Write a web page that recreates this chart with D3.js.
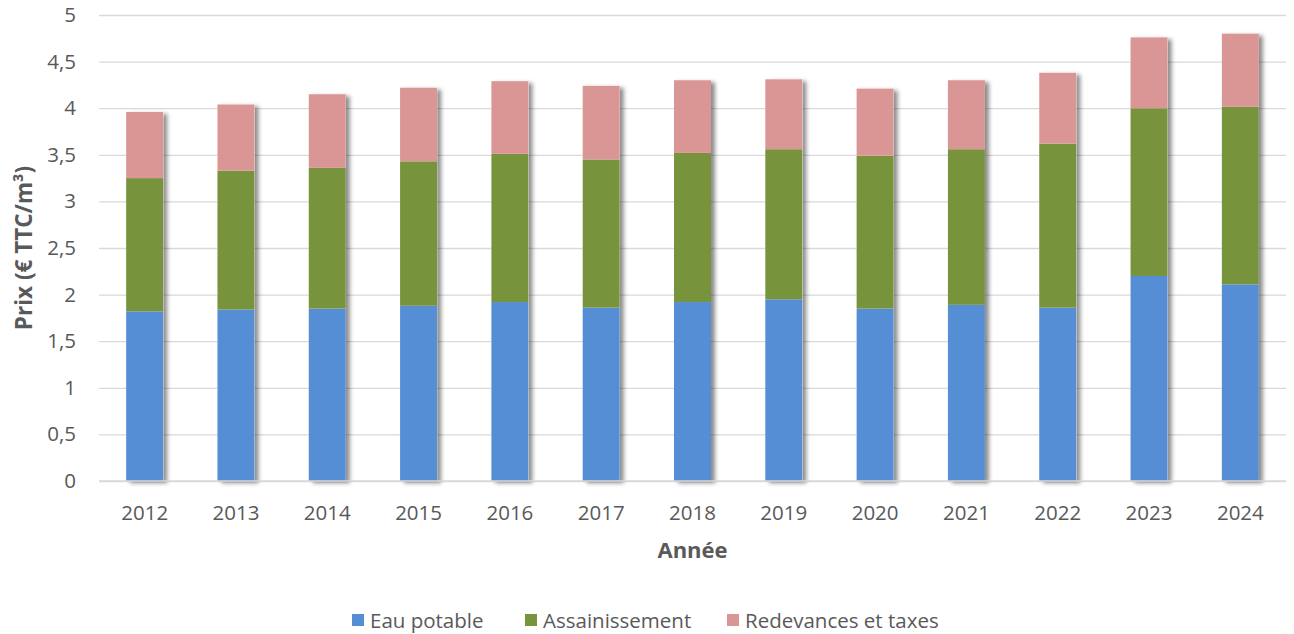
<!DOCTYPE html>
<html>
<head>
<meta charset="utf-8">
<script src="https://cdn.jsdelivr.net/npm/d3@7"></script>
<style>
  body { margin: 0; background: #fff; }
  text { font-family: "Open Sans", sans-serif; fill: #595959; }
</style>
</head>
<body>
<div id="chart"></div>
<script>
const years = ['2012', '2013', '2014', '2015', '2016', '2017', '2018', '2019', '2020', '2021', '2022', '2023', '2024'];
const eauPotable = [1.82, 1.84, 1.85, 1.88, 1.92, 1.86, 1.92, 1.95, 1.85, 1.89, 1.86, 2.20, 2.11];
const assainissement = [1.43, 1.49, 1.51, 1.55, 1.59, 1.59, 1.60, 1.61, 1.64, 1.67, 1.76, 1.80, 1.905];
const redevances = [0.71, 0.71, 0.79, 0.79, 0.78, 0.79, 0.78, 0.75, 0.72, 0.74, 0.76, 0.76, 0.785];
const seriesNames = ['Eau potable', 'Assainissement', 'Redevances et taxes'];
const yTicks = [0, 0.5, 1, 1.5, 2, 2.5, 3, 3.5, 4, 4.5, 5];

const W = 1294, H = 634;
const margin = { left: 99, right: 8, top: 15, bottom: 153 };
const width = W - margin.left - margin.right;
const height = H - margin.top - margin.bottom;

const colors = d3.scaleOrdinal().domain(seriesNames).range(['#558ed5', '#77933c', '#d99694']);

const rows = years.map((y, i) => ({
  year: y,
  'Eau potable': eauPotable[i],
  'Assainissement': assainissement[i],
  'Redevances et taxes': redevances[i]
}));
const stacked = d3.stack().keys(seriesNames)(rows);
const total = d => d['Eau potable'] + d['Assainissement'] + d['Redevances et taxes'];

const svg = d3.select('#chart').append('svg')
  .attr('width', W)
  .attr('height', H);

const defs = svg.append('defs');
defs.append('filter')
  .attr('id', 'shadow')
  .attr('x', '-20%').attr('y', '-5%')
  .attr('width', '150%').attr('height', '115%')
  .append('feDropShadow')
    .attr('dx', 4).attr('dy', 2)
    .attr('stdDeviation', 2.2)
    .attr('flood-color', '#000')
    .attr('flood-opacity', 0.45);

const g = svg.append('g').attr('transform', `translate(${margin.left}, ${margin.top})`);

const x = d3.scaleBand().domain(years).range([0, width]).paddingInner(0.595).paddingOuter(0.2975);
const y = d3.scaleLinear().domain([0, 5]).range([height, 0]);

const tickFont = '20.5px';

// grid lines
g.append('g')
  .attr('class', 'grid')
  .call(d3.axisLeft(y).tickValues(yTicks).tickSize(-width).tickFormat(''))
  .call(a => a.select('.domain').remove())
  .call(a => a.selectAll('line').attr('stroke', '#d9d9d9').attr('stroke-width', 1.3));

// y tick labels
g.append('g')
  .call(d3.axisLeft(y).tickValues(yTicks).tickSize(0).tickPadding(23)
    .tickFormat(d => String(d).replace('.', ',')))
  .call(a => a.select('.domain').remove())
  .call(a => a.selectAll('text').attr('font-size', tickFont).attr('fill', '#595959').style('font-family', '"Open Sans", sans-serif'));

// bars
const barG = g.append('g');
barG.selectAll('.shadow-bar')
  .data(rows)
  .enter()
  .append('rect')
    .attr('class', 'shadow-bar')
    .attr('x', d => x(d.year))
    .attr('width', x.bandwidth())
    .attr('y', d => y(total(d)))
    .attr('height', d => height - y(total(d)))
    .attr('fill', '#fff')
    .attr('filter', 'url(#shadow)');

barG.selectAll('.layer')
  .data(stacked)
  .enter()
  .append('g')
    .attr('class', 'layer')
    .attr('fill', d => colors(d.key))
  .selectAll('rect')
  .data(d => d)
  .enter()
  .append('rect')
    .attr('x', d => x(d.data.year))
    .attr('width', x.bandwidth())
    .attr('y', d => y(d[1]))
    .attr('height', d => y(d[0]) - y(d[1]));

// baseline
g.append('line')
  .attr('x1', 0).attr('x2', width)
  .attr('y1', height).attr('y2', height)
  .attr('stroke', '#d9d9d9')
  .attr('stroke-width', 1.3);

// x tick labels
g.append('g')
  .attr('transform', `translate(0, ${height})`)
  .call(d3.axisBottom(x).tickSize(0).tickPadding(24))
  .call(a => a.select('.domain').remove())
  .call(a => a.selectAll('text').attr('font-size', tickFont).attr('fill', '#595959').style('font-family', '"Open Sans", sans-serif'));

// axis titles
svg.append('text')
  .attr('x', margin.left + width / 2)
  .attr('y', 558)
  .attr('text-anchor', 'middle')
  .attr('font-size', '22px')
  .attr('font-weight', 'bold')
  .text('Année');

svg.append('text')
  .attr('transform', `translate(32, ${margin.top + height / 2}) rotate(-90)`)
  .attr('text-anchor', 'middle')
  .attr('font-size', '22.5px')
  .attr('font-weight', 'bold')
  .text('Prix (€ TTC/m³)');

// legend
const legendX = [352, 525, 727];
const legend = svg.append('g').attr('transform', 'translate(0, 614)');
const legendRow = legend.selectAll('.legend-row')
  .data(seriesNames)
  .enter()
  .append('g')
    .attr('class', 'legend-row')
    .attr('transform', (d, i) => `translate(${legendX[i]}, 0)`);

legendRow.append('rect')
  .attr('width', 12)
  .attr('height', 12)
  .attr('fill', d => colors(d));

legendRow.append('text')
  .attr('x', 18)
  .attr('y', 13.5)
  .attr('font-size', tickFont)
  .text(d => d);
</script>
</body>
</html>
